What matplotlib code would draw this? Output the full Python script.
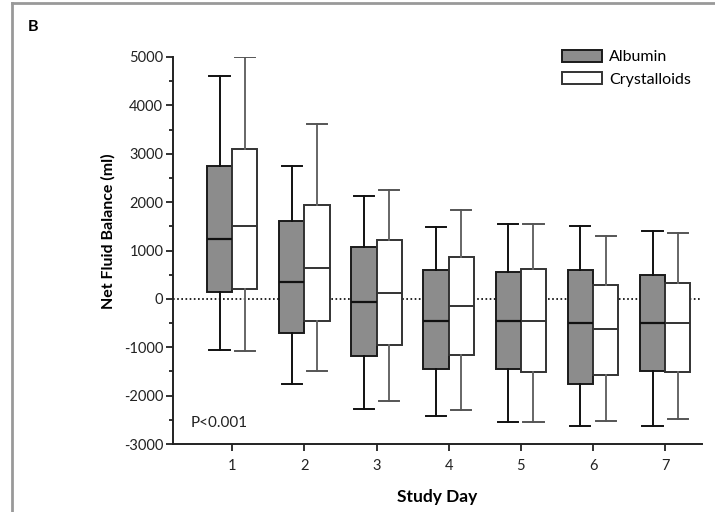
import numpy as np
import matplotlib
matplotlib.use("Agg")
import matplotlib.pyplot as plt
from matplotlib.patches import Patch
from matplotlib.lines import Line2D

plt.rcParams['font.family'] = ['Lato', 'DejaVu Sans']
plt.rcParams['axes.unicode_minus'] = False

# Study days and box-plot summaries (ml)
days = [1, 2, 3, 4, 5, 6, 7]

alb_whislo = [-1050, -1750, -2280, -2420, -2540, -2620, -2620]
alb_q1 = [150, -700, -1180, -1440, -1440, -1750, -1500]
alb_med = [1230, 350, -60, -460, -460, -500, -500]
alb_q3 = [2750, 1620, 1070, 600, 550, 600, 500]
alb_whishi = [4600, 2750, 2130, 1490, 1540, 1500, 1400]

cry_whislo = [-1080, -1500, -2120, -2300, -2540, -2520, -2480]
cry_q1 = [200, -460, -950, -1170, -1520, -1580, -1520]
cry_med = [1500, 630, 120, -150, -460, -620, -500]
cry_q3 = [3100, 1950, 1210, 860, 610, 280, 330]
cry_whishi = [5000, 3620, 2250, 1840, 1540, 1310, 1360]


def make_stats(lo, q1, med, q3, hi):
    return [dict(whislo=a, q1=b, med=c, q3=d, whishi=e, fliers=[])
            for a, b, c, d, e in zip(lo, q1, med, q3, hi)]


fig = plt.figure(figsize=(7.15, 5.12), dpi=100)
ax = fig.add_axes([173 / 715, 1 - 444 / 512, (702 - 173) / 715, (444 - 57) / 512])

# zero reference line
ax.axhline(0, color='black', lw=1.2, ls=(0, (1, 1.5)), zorder=0)

width = 0.35
off = 0.175
d = np.array(days)

ax.bxp(make_stats(alb_whislo, alb_q1, alb_med, alb_q3, alb_whishi),
       positions=d - off, widths=width, capwidths=0.28, patch_artist=True,
       showfliers=False, manage_ticks=False,
       boxprops=dict(facecolor='#8c8c8c', edgecolor='#1a1a1a', lw=1.4),
       medianprops=dict(color='#111111', lw=1.6),
       whiskerprops=dict(color='#111111', lw=1.4),
       capprops=dict(color='#111111', lw=1.4))

ax.bxp(make_stats(cry_whislo, cry_q1, cry_med, cry_q3, cry_whishi),
       positions=d + off, widths=width, capwidths=0.28, patch_artist=True,
       showfliers=False, manage_ticks=False,
       boxprops=dict(facecolor='white', edgecolor='#333333', lw=1.4),
       medianprops=dict(color='#333333', lw=1.4),
       whiskerprops=dict(color='#666666', lw=1.4),
       capprops=dict(color='#555555', lw=1.4))

ax.set_xlim(0.18, 7.51)
ax.set_ylim(-3000, 5000)
ax.set_xticks(days)
ax.set_yticks(np.arange(-3000, 5001, 1000))
ax.set_yticks(np.arange(-2500, 5000, 1000), minor=True)
for s in ['top', 'right']:
    ax.spines[s].set_visible(False)
for s in ['left', 'bottom']:
    ax.spines[s].set_linewidth(1.4)
    ax.spines[s].set_color('#222222')
ax.tick_params(axis='both', which='major', length=5, width=1.3,
               labelsize=10.5, colors='#222222', pad=2)
ax.tick_params(axis='x', which='major', pad=6)
ax.tick_params(axis='y', which='minor', length=3, width=1.3, colors='#222222')

ax.set_xlabel('Study Day', fontsize=12.5, fontweight='bold', labelpad=11)
ax.set_ylabel('Net Fluid Balance (ml)', fontsize=11.5, fontweight='bold')
ax.yaxis.set_label_coords(-0.108, 0.55)

ax.text(0.033, 0.045, 'P<0.001', transform=ax.transAxes, fontsize=11,
        color='#222222')

handles = [Patch(facecolor='#8c8c8c', edgecolor='#1a1a1a', lw=1.4, label='Albumin'),
           Patch(facecolor='white', edgecolor='#333333', lw=1.4, label='Crystalloids')]
fig.legend(handles=handles, loc='upper left', bbox_to_anchor=(562 / 715, 1 - 50 / 512),
           frameon=False, fontsize=11.5, handlelength=2.5, handleheight=0.75,
           handletextpad=0.45, labelspacing=0.5, borderpad=0, borderaxespad=0)

fig.text(28 / 715, 1 - 27 / 512, 'B', fontsize=11.5, fontweight='bold', va='center')

# screenshot frame lines
fig.add_artist(Line2D([12 / 715, 1], [1 - 3 / 512, 1 - 3 / 512], color='#999999', lw=2))
fig.add_artist(Line2D([12 / 715, 12 / 715], [0, 1 - 3 / 512], color='#999999', lw=2))

fig.savefig('out.png', dpi=100)
